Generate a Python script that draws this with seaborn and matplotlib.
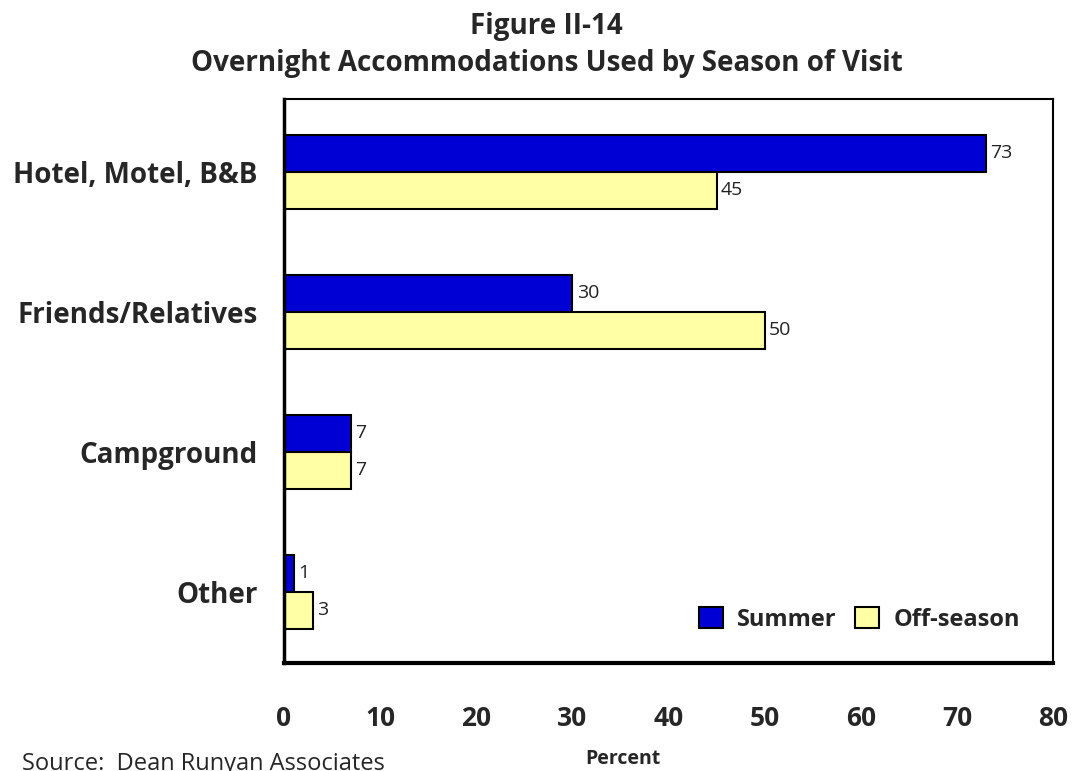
import matplotlib
matplotlib.use("Agg")
import matplotlib.pyplot as plt
import seaborn as sns
import pandas as pd

categories = ["Hotel, Motel, B&B", "Friends/Relatives", "Campground", "Other"]
summer = [73, 30, 7, 1]
offseason = [45, 50, 7, 3]
seasons = ["Summer", "Off-season"]
xticks = [0, 10, 20, 30, 40, 50, 60, 70, 80]

df = pd.DataFrame({
    "cat": categories * 2,
    "pct": summer + offseason,
    "season": [seasons[0]] * 4 + [seasons[1]] * 4,
})

sns.set_style("white")
plt.rcParams["font.family"] = ["Open Sans", "DejaVu Sans"]

fig = plt.figure(figsize=(10.78, 7.71), dpi=100)
ax = fig.add_axes([0.2635, 0.140, 0.7134, 0.7316])

sns.barplot(data=df, y="cat", x="pct", hue="season", orient="h",
            palette=["#0000D4", "#FFFFA6"], width=0.53, edgecolor="black",
            linewidth=1.5, ax=ax, saturation=1)

for cont in ax.containers:
    ax.bar_label(cont, padding=3, fontsize=14, color="#222222")

ax.set_xlim(0, 80)
ax.set_ylim(3.51, -0.52)
ax.set_xticks(xticks)
ax.set_xticklabels([str(t) for t in xticks], fontsize=19, fontweight="bold")
ax.tick_params(axis="x", pad=30, length=0)
ax.tick_params(axis="y", pad=19, length=0)
ax.set_yticklabels(categories, fontsize=20, fontweight="bold")
ax.set_ylabel("")
ax.set_xlabel("Percent", fontsize=14, fontweight="bold")
ax.xaxis.set_label_coords(0.44, -0.152)

for s in ax.spines.values():
    s.set_visible(True)
    s.set_color("black")
    s.set_linewidth(1.5)
ax.spines["left"].set_linewidth(2.5)
ax.spines["bottom"].set_linewidth(3)

ax.legend(loc="lower right", frameon=False, prop={"weight": "bold", "size": 17},
          handlelength=1.0, handleheight=1.0, handletextpad=0.6, columnspacing=0.8,
          ncol=2, bbox_to_anchor=(0.975, 0.03), borderaxespad=0.2)

fig.text(0.507, 0.985, "Figure II-14\nOvernight Accommodations Used by Season of Visit",
         ha="center", va="top", fontsize=20, fontweight="bold", linespacing=1.4)
fig.text(0.02, 0.024, "Source:  Dean Runyan Associates", ha="left", va="top", fontsize=17)

fig.savefig("out.png", dpi=100)
